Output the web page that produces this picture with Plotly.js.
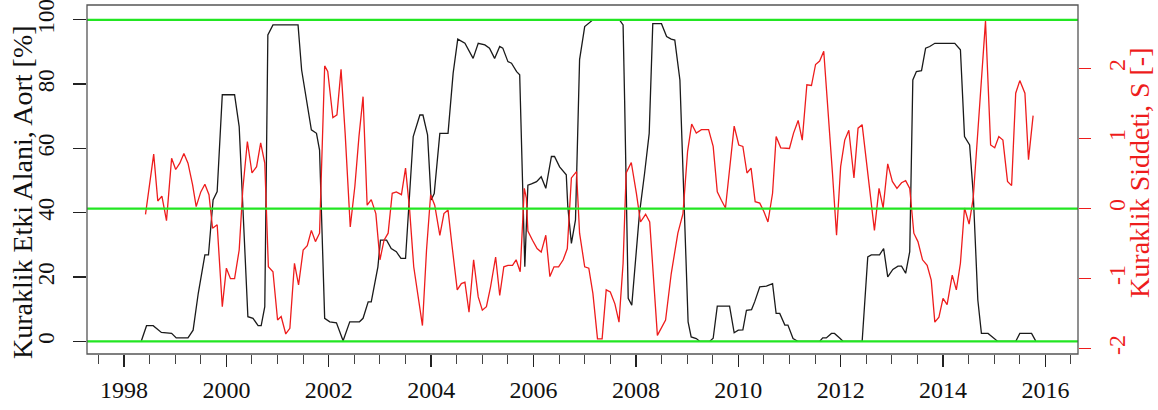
<!DOCTYPE html>
<html>
<head>
<meta charset="utf-8">
<script src="https://cdn.plot.ly/plotly-3.0.1.min.js"></script>
<style>html,body{margin:0;padding:0;background:#fff;}#chart{width:1158px;height:410px;}</style>
</head>
<body>
<div id="chart"></div>
<script>
// Kuraklik Etki Alani (Aort, %) – black series
const aortYear = [1998.34,1998.44,1998.57,1998.73,1998.93,1999.02,1999.25,1999.35,1999.45,1999.58,1999.65,1999.74,1999.82,1999.92,2000.16,2000.25,2000.42,2000.52,2000.62,2000.68,2000.75,2000.81,2000.91,2001.40,2001.47,2001.66,2001.76,2001.82,2001.92,2002.02,2002.15,2002.28,2002.41,2002.60,2002.67,2002.77,2002.83,2002.96,2003.01,2003.13,2003.22,2003.32,2003.41,2003.50,2003.65,2003.78,2003.84,2003.93,2004.00,2004.06,2004.17,2004.33,2004.43,2004.52,2004.66,2004.82,2004.92,2005.05,2005.14,2005.24,2005.34,2005.40,2005.50,2005.57,2005.67,2005.73,2005.83,2005.89,2005.96,2006.06,2006.15,2006.24,2006.35,2006.41,2006.51,2006.64,2006.67,2006.74,2006.82,2006.90,2007.00,2007.16,2007.68,2007.75,2007.78,2007.85,2007.92,2008.07,2008.17,2008.26,2008.33,2008.50,2008.60,2008.69,2008.76,2008.86,2009.02,2009.08,2009.18,2009.25,2009.44,2009.51,2009.59,2009.83,2009.92,2010.00,2010.09,2010.16,2010.26,2010.32,2010.42,2010.55,2010.67,2010.74,2010.81,2010.91,2010.97,2011.07,2011.17,2011.59,2011.65,2011.72,2011.82,2011.88,2011.98,2012.05,2012.42,2012.53,2012.60,2012.76,2012.84,2012.92,2013.02,2013.12,2013.19,2013.27,2013.35,2013.41,2013.48,2013.58,2013.66,2013.74,2013.84,2014.23,2014.34,2014.42,2014.52,2014.59,2014.68,2014.75,2014.88,2014.98,2015.07,2015.42,2015.50,2015.73,2015.81];
const aortVal = [0.2,4.9,4.9,2.8,2.5,1.1,1.1,3.5,14.9,26.9,26.9,44,46.6,76.7,76.7,66.8,7.7,7.2,4.9,4.9,10.8,95.3,98.4,98.4,84.4,65.8,64.7,59.5,7.2,6.1,5.8,0.2,6.1,6.1,7.2,12.3,12.3,23.2,31.5,31.5,28.9,27.9,25.8,25.8,63.7,70.4,70.4,64.2,44,46,64.7,64.7,83.4,94,92.7,88,92.7,92.2,91.2,88,91.7,91.2,87,86.5,83.9,82.9,23.2,48.6,49,49.7,51.2,47.6,57.5,57.5,54.3,51.8,41.9,30.5,37.8,87.6,97.9,100,100,98.4,75,13.4,11.3,39.8,52.3,64.7,98.8,98.8,94.8,94,93.7,81.3,6.1,1.4,0.9,0,0,1,11,11,2.7,3.5,3.6,9.7,9.9,12.3,17,17.2,18,8.7,8.7,5.1,5.1,0.9,0,0,1.1,1.1,2.5,2.5,1.1,0,0,26.3,26.9,26.9,28.9,20.1,22.4,23.4,23.4,21.2,27.9,81.3,83.9,84.2,91.2,91.7,92.7,92.7,90.7,63.7,61.1,46,12.9,2.5,2.5,1.2,0,0,2.5,2.5,0.2];

// Kuraklik Siddeti (S, -) – red series
const sYear = [1998.42,1998.58,1998.66,1998.74,1998.83,1998.93,1999.01,1999.09,1999.17,1999.25,1999.34,1999.41,1999.50,1999.58,1999.66,1999.73,1999.82,1999.92,2000.00,2000.08,2000.16,2000.25,2000.32,2000.41,2000.50,2000.59,2000.67,2000.75,2000.82,2000.91,2001.00,2001.07,2001.16,2001.24,2001.33,2001.41,2001.50,2001.58,2001.66,2001.74,2001.82,2001.92,2001.98,2002.08,2002.16,2002.24,2002.32,2002.42,2002.51,2002.59,2002.67,2002.75,2002.83,2002.92,2003.00,2003.08,2003.16,2003.24,2003.32,2003.42,2003.50,2003.58,2003.66,2003.74,2003.83,2003.91,2003.99,2004.07,2004.17,2004.25,2004.33,2004.41,2004.51,2004.59,2004.66,2004.74,2004.83,2004.92,2005.00,2005.08,2005.16,2005.26,2005.34,2005.42,2005.50,2005.59,2005.66,2005.74,2005.82,2005.86,2005.89,2005.98,2006.07,2006.15,2006.24,2006.32,2006.40,2006.49,2006.58,2006.66,2006.74,2006.84,2006.90,2007.00,2007.08,2007.16,2007.25,2007.34,2007.42,2007.50,2007.59,2007.67,2007.75,2007.81,2007.91,2008.01,2008.09,2008.19,2008.27,2008.42,2008.58,2008.69,2008.82,2008.92,2009.01,2009.09,2009.18,2009.28,2009.42,2009.51,2009.59,2009.67,2009.75,2009.92,2010.01,2010.09,2010.17,2010.25,2010.33,2010.42,2010.50,2010.58,2010.67,2010.74,2010.83,2011.00,2011.08,2011.17,2011.25,2011.34,2011.43,2011.51,2011.59,2011.67,2011.75,2011.84,2011.92,2012.00,2012.08,2012.16,2012.26,2012.34,2012.42,2012.50,2012.58,2012.66,2012.75,2012.83,2012.92,2013.01,2013.10,2013.19,2013.27,2013.35,2013.43,2013.51,2013.60,2013.69,2013.77,2013.84,2013.92,2014.00,2014.08,2014.18,2014.26,2014.34,2014.42,2014.51,2014.59,2014.67,2014.75,2014.83,2014.93,2015.01,2015.09,2015.17,2015.26,2015.34,2015.42,2015.50,2015.60,2015.67,2015.76];
const sVal = [-0.08,0.78,0.11,0.18,-0.17,0.72,0.56,0.65,0.79,0.65,0.34,0.03,0.24,0.35,0.20,-0.28,-0.23,-1.40,-0.85,-1.0,-1.0,-0.59,0.27,0.96,0.51,0.60,0.94,0.65,-0.83,-0.90,-1.59,-1.54,-1.79,-1.71,-0.78,-1.09,-0.59,-0.53,-0.31,-0.47,-0.35,2.04,1.96,1.30,1.34,1.99,1.08,-0.26,0.32,1.03,1.60,0.05,0.13,-0.07,-0.73,-0.45,-0.35,0.22,0.24,0.20,0.58,-0.02,-0.83,-1.26,-1.67,-0.59,0.20,0.05,-0.38,-0.07,-0.02,-0.54,-1.16,-1.07,-1.05,-1.48,-0.73,-1.26,-1.45,-1.40,-1.12,-0.69,-1.24,-0.83,-0.81,-0.81,-0.73,-0.90,0.29,0.15,-0.32,-0.45,-0.57,-0.62,-0.38,-0.97,-0.83,-0.83,-0.73,-0.57,0.44,0.53,-0.35,-0.83,-0.85,-1.21,-1.86,-1.86,-1.16,-1.19,-1.36,-1.62,-0.78,0.51,0.66,0.22,-0.19,-0.08,-0.19,-1.81,-1.59,-0.93,-0.35,-0.07,0.82,1.21,1.08,1.13,1.13,0.89,0.24,0.12,0.01,1.18,0.91,0.89,0.51,0.58,0.10,0.08,-0.04,-0.19,0.22,1.03,0.87,0.86,1.08,1.26,0.98,1.77,1.76,2.06,2.11,2.25,1.46,0.51,-0.38,0.60,0.98,1.12,0.44,1.15,1.20,0.70,0.24,-0.31,0.29,0.01,0.64,0.39,0.29,0.37,0.40,0.29,-0.35,-0.47,-0.73,-0.81,-1.02,-1.62,-1.55,-1.28,-1.37,-0.95,-1.16,-0.78,0.01,-0.22,0.15,0.98,1.80,2.68,0.91,0.87,1.03,0.98,0.39,0.33,1.65,1.83,1.65,0.70,1.33];

// Axis tick labels, titles and reference levels
const xTickYears = [1998,2000,2002,2004,2006,2008,2010,2012,2014,2016];
const aortTicks = [0,20,40,60,80,100];
const sTicks = [-2,-1,0,1,2];
const aortRefLevels = [0,100];
const sRefLevel = 0;
const aortTitle = 'Kuraklik Etki Alani, Aort [%]';
const sTitle = 'Kuraklik Siddeti, S [-]';

const FONT = 'Liberation Serif, Times New Roman, serif';
const GREEN = '#22e622';
const RED = '#ee1c1c';

const traces = [
  {x: aortYear, y: aortVal, type: 'scatter', mode: 'lines', yaxis: 'y',
   line: {color: '#1a1a1a', width: 1.3}, hoverinfo: 'skip'},
  {x: sYear, y: sVal, type: 'scatter', mode: 'lines', yaxis: 'y2',
   line: {color: RED, width: 1.3}, hoverinfo: 'skip'}
];

const shapes = [];
aortRefLevels.forEach(v => shapes.push({type: 'line', xref: 'paper', x0: 0, x1: 1, yref: 'y', y0: v, y1: v,
  line: {color: GREEN, width: 2.2}, layer: 'above'}));
shapes.push({type: 'line', xref: 'paper', x0: 0, x1: 1, yref: 'y2', y0: sRefLevel, y1: sRefLevel,
  line: {color: GREEN, width: 2.2}, layer: 'above'});
shapes.push({type: 'rect', xref: 'paper', yref: 'paper', x0: 0, x1: 1, y0: 0, y1: 1,
  line: {color: '#555', width: 1.3}, layer: 'above'});

const annotations = [
  {text: aortTitle, xref: 'paper', yref: 'paper', x: -0.0656, y: 0.464, xanchor: 'center', yanchor: 'middle',
   textangle: -90, showarrow: false, font: {family: FONT, size: 28, color: '#111'}},
  {text: sTitle, xref: 'paper', yref: 'paper', x: 1.0626, y: 0.519, xanchor: 'center', yanchor: 'middle',
   textangle: -90, showarrow: false, font: {family: FONT, size: 28, color: RED}}
];

const layout = {
  width: 1158, height: 410,
  margin: {l: 87, r: 80, t: 5, b: 56},
  paper_bgcolor: '#fff', plot_bgcolor: '#fff',
  showlegend: false,
  font: {family: FONT, size: 24, color: '#111'},
  xaxis: {
    range: [1997.277, 2016.637], showgrid: false, zeroline: false, showline: false,
    tickmode: 'array', tickvals: xTickYears, ticktext: xTickYears.map(String),
    ticks: 'outside', ticklen: 12, tickwidth: 1.3, tickcolor: '#222',
    minor: {dtick: 0.5, tick0: 1998, ticks: 'outside', ticklen: 9, tickwidth: 1, tickcolor: '#444'},
    tickfont: {family: FONT, size: 24, color: '#111'}, ticklabelstandoff: 2
  },
  yaxis: {
    range: [-3.9, 104.6], showgrid: false, zeroline: false, showline: false,
    tickmode: 'array', tickvals: aortTicks, ticktext: aortTicks.map(String),
    ticks: 'outside', ticklen: 13, tickwidth: 1.3, tickcolor: '#222', tickangle: -90,
    ticklabelstandoff: 10, ticklabeloverflow: 'allow',
    tickfont: {family: FONT, size: 23, color: '#111'}
  },
  yaxis2: {
    overlaying: 'y', side: 'right', range: [-2.076, 2.91],
    showgrid: false, zeroline: false, showline: false,
    tickmode: 'array', tickvals: sTicks, ticktext: sTicks.map(String),
    ticks: 'outside', ticklen: 12, tickwidth: 1.3, tickcolor: RED, tickangle: -90,
    ticklabelstandoff: 5, ticklabeloverflow: 'allow',
    tickfont: {family: FONT, size: 24, color: RED}
  },
  shapes: shapes,
  annotations: annotations
};

Plotly.newPlot('chart', traces, layout, {displayModeBar: false, staticPlot: true});
</script>
</body>
</html>
